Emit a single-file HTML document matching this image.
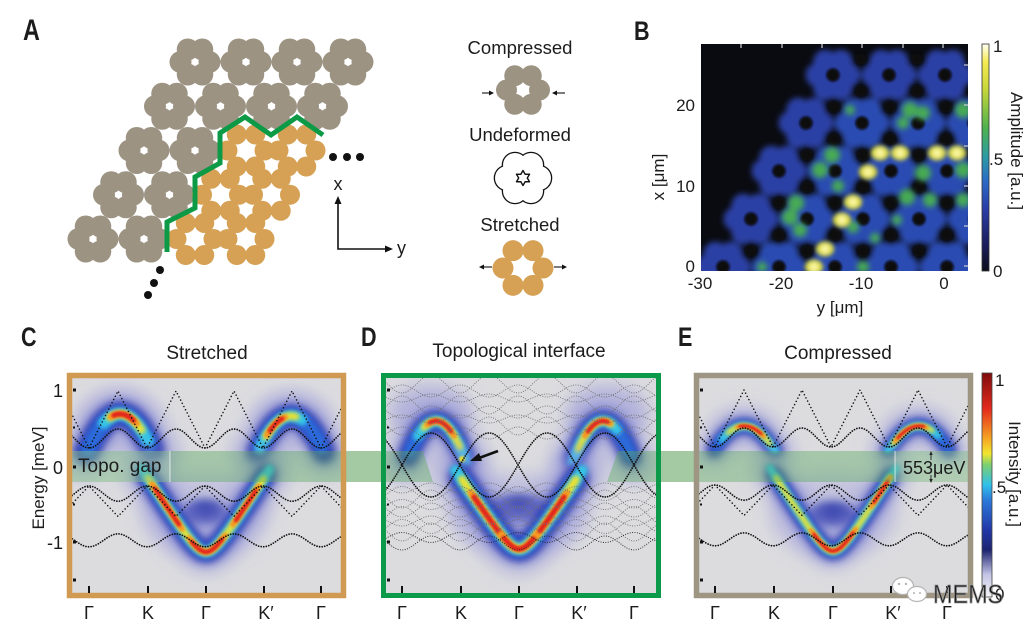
<!DOCTYPE html>
<html><head><meta charset="utf-8"><title>figure</title>
<style>
html,body{margin:0;padding:0;background:#fff;width:1036px;height:636px;overflow:hidden}
svg{display:block}
text{font-family:"Liberation Sans","DejaVu Sans",sans-serif;fill:#1c1c1c}
</style></head><body>
<svg id="s" xmlns="http://www.w3.org/2000/svg" width="1036" height="636" viewBox="0 0 1036 636">
<defs>
<filter id="b1" filterUnits="userSpaceOnUse" x="0" y="0" width="1036" height="636"><feGaussianBlur stdDeviation="1.1"/></filter>
<filter id="b2" filterUnits="userSpaceOnUse" x="0" y="0" width="1036" height="636"><feGaussianBlur stdDeviation="2"/></filter>
<filter id="b3" filterUnits="userSpaceOnUse" x="0" y="0" width="1036" height="636"><feGaussianBlur stdDeviation="3"/></filter>
<filter id="b4" filterUnits="userSpaceOnUse" x="0" y="0" width="1036" height="636"><feGaussianBlur stdDeviation="4.5"/></filter>
<filter id="b8" filterUnits="userSpaceOnUse" x="0" y="0" width="1036" height="636"><feGaussianBlur stdDeviation="8"/></filter>
<clipPath id="cB"><rect x="701" y="44" width="267" height="227"/></clipPath>
<clipPath id="cC"><rect x="72" y="378" width="269" height="215"/></clipPath>
<clipPath id="cD"><rect x="386" y="378" width="270" height="215"/></clipPath>
<clipPath id="cE"><rect x="699" y="378" width="269" height="215"/></clipPath>
<linearGradient id="cbB" x1="0" y1="1" x2="0" y2="0">
<stop offset="0" stop-color="#0c0d1c"/><stop offset="0.12" stop-color="#1b1d5e"/><stop offset="0.27" stop-color="#2a3ca6"/><stop offset="0.4" stop-color="#2a6cc6"/><stop offset="0.5" stop-color="#2c9aa6"/><stop offset="0.63" stop-color="#4db24e"/><stop offset="0.8" stop-color="#c6d63a"/><stop offset="0.92" stop-color="#f5ea52"/><stop offset="1" stop-color="#fffff2"/>
</linearGradient>
<linearGradient id="cbE" x1="0" y1="1" x2="0" y2="0">
<stop offset="0" stop-color="#f6f6f8"/><stop offset="0.1" stop-color="#c4c4e6"/><stop offset="0.21" stop-color="#1d2370"/><stop offset="0.3" stop-color="#2238a8"/><stop offset="0.43" stop-color="#2b78d8"/><stop offset="0.5" stop-color="#2fc0ea"/><stop offset="0.59" stop-color="#7cd070"/><stop offset="0.64" stop-color="#f2e630"/><stop offset="0.71" stop-color="#f6a224"/><stop offset="0.84" stop-color="#e42a1c"/><stop offset="1" stop-color="#7e0c0c"/>
</linearGradient>
</defs>
<rect width="1036" height="636" fill="#fff"/>

<!-- ================= Panel A ================= -->
<text transform="translate(23,40) scale(0.78,1)" font-size="30" font-weight="bold">A</text>
<g id="pA"></g>
<polyline points="167,252 167,222 195,208 195,177 220,163 220,133 245,117 271,135 297,117 323,135" fill="none" stroke="#0d9a47" stroke-width="5"/>
<g fill="#111">
<circle cx="333" cy="157" r="4"/><circle cx="347" cy="157" r="4"/><circle cx="360" cy="157" r="4"/>
<circle cx="160" cy="270" r="4"/><circle cx="154" cy="283" r="4"/><circle cx="148" cy="295" r="4"/>
</g>
<g stroke="#111" stroke-width="1.6" fill="none">
<polyline points="338,202 338,249 386,249"/>
</g>
<polygon points="338,196 334.5,204 341.5,204" fill="#111"/>
<polygon points="393,249 385,245.5 385,252.5" fill="#111"/>
<text x="338" y="190" font-size="18" text-anchor="middle">x</text>
<text x="397" y="254" font-size="18">y</text>

<text x="520" y="54" font-size="18.5" text-anchor="middle">Compressed</text>
<text x="520" y="141" font-size="18.5" text-anchor="middle">Undeformed</text>
<text x="520" y="231" font-size="18.5" text-anchor="middle">Stretched</text>
<g id="pL"></g>
<g stroke="#111" stroke-width="1.1">
<line x1="482" y1="93" x2="490" y2="93"/><line x1="565" y1="93" x2="557" y2="93"/>
<line x1="492" y1="267" x2="483" y2="267"/><line x1="554" y1="267" x2="563" y2="267"/>
</g>
<g fill="#111">
<polygon points="494,93 489,90.5 489,95.5"/><polygon points="552,93 557,90.5 557,95.5"/>
<polygon points="479,267 484,264.5 484,269.5"/><polygon points="567,267 562,264.5 562,269.5"/>
</g>

<!-- ================= Panel B ================= -->
<text transform="translate(634,40) scale(0.8,1)" font-size="27" font-weight="bold">B</text>
<rect x="701" y="44" width="267" height="227" fill="#0a0b10"/>
<g id="pB" clip-path="url(#cB)"></g>
<g stroke="#cfcfd6" stroke-width="1.2">
<line x1="741" y1="44" x2="741" y2="48"/><line x1="782" y1="44" x2="782" y2="48"/><line x1="822" y1="44" x2="822" y2="48"/><line x1="862" y1="44" x2="862" y2="48"/><line x1="903" y1="44" x2="903" y2="48"/><line x1="943" y1="44" x2="943" y2="48"/>
<line x1="964" y1="65" x2="968" y2="65"/><line x1="964" y1="105" x2="968" y2="105"/><line x1="964" y1="146" x2="968" y2="146"/><line x1="964" y1="186" x2="968" y2="186"/><line x1="964" y1="226" x2="968" y2="226"/><line x1="964" y1="266" x2="968" y2="266"/>
</g>
<rect x="982" y="44" width="7" height="227" fill="url(#cbB)" stroke="#333" stroke-width="0.8"/>
<g font-size="17">
<text x="695" y="111" text-anchor="end">20</text>
<text x="695" y="192" text-anchor="end">10</text>
<text x="695" y="272" text-anchor="end">0</text>
<text x="700" y="289" text-anchor="middle">-30</text>
<text x="781" y="289" text-anchor="middle">-20</text>
<text x="861" y="289" text-anchor="middle">-10</text>
<text x="944" y="289" text-anchor="middle">0</text>
<text x="840" y="313" text-anchor="middle">y [μm]</text>
<text transform="translate(664,177) rotate(-90)" text-anchor="middle">x [μm]</text>
<text x="993" y="52">1</text>
<text x="989" y="165">.5</text>
<text x="993" y="277">0</text>
<text transform="translate(1011,151) rotate(90)" text-anchor="middle">Amplitude [a.u.]</text>
</g>

<!-- ================= Panels C D E ================= -->
<text transform="translate(21,346) scale(0.8,1)" font-size="27" font-weight="bold">C</text>
<text transform="translate(361,346) scale(0.8,1)" font-size="27" font-weight="bold">D</text>
<text transform="translate(678,346) scale(0.8,1)" font-size="27" font-weight="bold">E</text>
<g font-size="19">
<text x="207" y="359" text-anchor="middle">Stretched</text>
<text x="519" y="357" text-anchor="middle">Topological interface</text>
<text x="838" y="359" text-anchor="middle">Compressed</text>
</g>

<rect x="72" y="378" width="269" height="215" fill="#dcdcdf"/>
<rect x="386" y="378" width="270" height="215" fill="#dcdcdf"/>
<rect x="699" y="378" width="269" height="215" fill="#dcdcdf"/>
<g id="hC" clip-path="url(#cC)"></g>
<g id="hD" clip-path="url(#cD)"></g>
<g id="hE" clip-path="url(#cE)"></g>

<!-- green band -->
<rect x="341" y="451" width="45" height="31" fill="#a4caa4"/>
<rect x="656" y="451" width="43" height="31" fill="#a4caa4"/>
<g fill="#5aaa60" fill-opacity="0.42">
<rect x="72" y="451" width="269" height="31"/>
<polygon points="386,451 423,451 433,482 386,482"/>
<polygon points="618,451 656,451 656,482 607,482"/>
<rect x="699" y="451" width="269" height="31"/>
</g>
<rect x="72" y="451" width="98" height="31" fill="#fff" fill-opacity="0.12"/>
<line x1="170" y1="451" x2="170" y2="482" stroke="#fff" stroke-opacity="0.7" stroke-width="1"/>
<rect x="895" y="451" width="73" height="31" fill="#fff" fill-opacity="0.12"/>
<line x1="895" y1="451" x2="895" y2="482" stroke="#fff" stroke-opacity="0.7" stroke-width="1"/>

<g id="dC" clip-path="url(#cC)"></g>
<g id="dD" clip-path="url(#cD)"></g>
<g id="dE" clip-path="url(#cE)"></g>

<text x="78" y="472" font-size="19" fill="#2a2a2a">Topo. gap</text>
<text x="903" y="474" font-size="18" fill="#2a2a2a">553μeV</text>
<g stroke="#222" stroke-width="0.9">
<line x1="931" y1="453" x2="931" y2="460"/><line x1="931" y1="475" x2="931" y2="481"/>
</g>
<g fill="#222"><polygon points="931,451 929.3,455 932.7,455"/><polygon points="931,483 929.3,479 932.7,479"/></g>

<!-- frames -->
<rect x="69.5" y="375.5" width="274" height="220" fill="none" stroke="#d09a53" stroke-width="5.5"/>
<rect x="383.5" y="375.5" width="275" height="220" fill="none" stroke="#0b9a49" stroke-width="5"/>
<rect x="696.5" y="375.5" width="274" height="220" fill="none" stroke="#9f9583" stroke-width="5.5"/>

<!-- ticks -->
<g fill="#111">
<rect x="73" y="388.5" width="3" height="3"/><rect x="73" y="465.5" width="3" height="3"/><rect x="73" y="540.5" width="3" height="3"/><rect x="73" y="578.5" width="3" height="3"/><rect x="73" y="426.5" width="2" height="2"/><rect x="73" y="503.5" width="2" height="2"/>
<rect x="387" y="388.5" width="3" height="3"/><rect x="387" y="465.5" width="3" height="3"/><rect x="387" y="540.5" width="3" height="3"/><rect x="387" y="578.5" width="3" height="3"/><rect x="387" y="426.5" width="2" height="2"/><rect x="387" y="503.5" width="2" height="2"/>
<rect x="700" y="388.5" width="3" height="3"/><rect x="700" y="465.5" width="3" height="3"/><rect x="700" y="540.5" width="3" height="3"/><rect x="700" y="578.5" width="3" height="3"/><rect x="700" y="426.5" width="2" height="2"/><rect x="700" y="503.5" width="2" height="2"/>
</g>
<g stroke="#111" stroke-width="2">
<line x1="89" y1="586" x2="89" y2="593"/><line x1="148" y1="586" x2="148" y2="593"/><line x1="206" y1="586" x2="206" y2="593"/><line x1="264" y1="586" x2="264" y2="593"/><line x1="321" y1="586" x2="321" y2="593"/>
<line x1="402" y1="586" x2="402" y2="593"/><line x1="461" y1="586" x2="461" y2="593"/><line x1="519" y1="586" x2="519" y2="593"/><line x1="577" y1="586" x2="577" y2="593"/><line x1="634" y1="586" x2="634" y2="593"/>
<line x1="715" y1="586" x2="715" y2="593"/><line x1="774" y1="586" x2="774" y2="593"/><line x1="833" y1="586" x2="833" y2="593"/><line x1="891" y1="586" x2="891" y2="593"/><line x1="947" y1="586" x2="947" y2="593"/>
</g>

<g font-size="18">
<text x="63" y="397" text-anchor="end">1</text>
<text x="63" y="474" text-anchor="end">0</text>
<text x="63" y="549" text-anchor="end">-1</text>
</g>
<text transform="translate(44,478) rotate(-90)" font-size="17" text-anchor="middle">Energy [meV]</text>
<g font-size="18" text-anchor="middle">
<text x="89" y="619">Γ</text><text x="148" y="619">K</text><text x="206" y="619">Γ</text><text x="266" y="619">K′</text><text x="321" y="619">Γ</text>
<text x="402" y="619">Γ</text><text x="461" y="619">K</text><text x="519" y="619">Γ</text><text x="579" y="619">K′</text><text x="634" y="619">Γ</text>
<text x="715" y="619">Γ</text><text x="774" y="619">K</text><text x="833" y="619">Γ</text><text x="893" y="619">K′</text><text x="947" y="619">Γ</text>
</g>

<!-- colorbar E -->
<rect x="982" y="373" width="10" height="224" fill="url(#cbE)" stroke="#444" stroke-width="0.8"/>
<g font-size="17">
<text x="995" y="386">1</text>
<text x="992" y="493">.5</text>
<text x="995" y="600">0</text>
<text transform="translate(1009,474) rotate(90)" text-anchor="middle">Intensity [a.u.]</text>
</g>

<!-- watermark -->
<g fill="#fff" stroke="#b4b4b4" stroke-width="1.2">
<ellipse cx="903" cy="586" rx="10.5" ry="8.5"/>
<ellipse cx="917" cy="594" rx="9.5" ry="7.5"/>
</g>
<g fill="#b4b4b4"><circle cx="899" cy="584" r="1.2"/><circle cx="906" cy="584" r="1.2"/><circle cx="914" cy="593" r="1"/><circle cx="920" cy="593" r="1"/></g>
<text transform="translate(933,603) scale(0.9,1)" font-size="26" fill="#f4f4f4" stroke="#9a9a9a" stroke-width="0.8">MEMS</text>
</svg>
<script>
(function(){
const NS='http://www.w3.org/2000/svg';
function E(t,a,p){const e=document.createElementNS(NS,t);for(const k in a)e.setAttribute(k,a[k]);p.appendChild(e);return e;}
const $=id=>document.getElementById(id);
function flower(g,cx,cy,d,r,col,dy){dy=dy||d;for(let i=0;i<6;i++){const a=i*Math.PI/3;E('circle',{cx:(cx+d*Math.cos(a)).toFixed(2),cy:(cy+dy*Math.sin(a)).toFixed(2),r:r,fill:col},g);}}
const GR='#9c9383',OR='#d6a155';
// ---- Panel A lattice
const A=$('pA');
for(let r=0;r<5;r++)for(let c=0;c<4;c++){
  const x=195+51*c-25.5*r,y=62+44.25*r;
  if(r>=2&&c>=2) flower(A,x,y,18.5,10,OR);
  else flower(A,x,y,14.5,11,GR);
}
// ---- Legend icons
const L=$('pL');
flower(L,523,90,16.5,10.5,GR);
for(let i=0;i<6;i++){const a=i*Math.PI/3;E('circle',{cx:523+16*Math.cos(a),cy:178+15*Math.sin(a),r:13.3,fill:'#111'},L);}
for(let i=0;i<6;i++){const a=i*Math.PI/3;E('circle',{cx:523+16*Math.cos(a),cy:178+15*Math.sin(a),r:12,fill:'#fff'},L);}
E('circle',{cx:523,cy:178,r:9,fill:'#fff'},L);
let st='';for(let i=0;i<12;i++){const a=-Math.PI/2+i*Math.PI/6,R=(i%2?4.3:7.5);st+=(523+R*Math.cos(a)).toFixed(2)+','+(178+R*Math.sin(a)).toFixed(2)+' ';}
E('polygon',{points:st,fill:'#fff',stroke:'#111','stroke-width':1.4,'stroke-linejoin':'round'},L);
flower(L,523,268,20,10.5,OR);
// ---- Panel B
const B=$('pB');
const gb=E('g',{filter:'url(#b3)'},B);
const starts=[833,806,779,751,723],cen=[];
for(let r=0;r<5;r++){const y=75+48*r;for(let x=starts[r];x<1010;x+=56){cen.push([x,y]);const edge=(x-starts[r]<10)||r===0;flower(gb,x,y,15.5,12,edge?'#2c40a4':'#2b4cb2');}}
// interstitial holes
const gh=E('g',{filter:'url(#b1)'},B);
cen.forEach(p=>E('circle',{cx:p[0],cy:p[1],r:6.5,fill:'#07080c'},gh));
cen.forEach(p=>{E('circle',{cx:p[0]+28,cy:p[1]+16,r:6,fill:'#07080c'},gh);E('circle',{cx:p[0]+28,cy:p[1]-16,r:6,fill:'#07080c'},gh);});
const greens=[[832,155,8],[820,170,8],[838,186,6],[796,203,8],[790,217,8],[800,230,7],[850,110,5],[910,110,8],[923,113,7],[903,123,6],[963,110,8],[923,173,8],[963,170,8],[907,197,8],[930,200,7],[963,200,7],[853,227,6],[897,220,5],[863,267,6],[762,267,5],[875,238,5]];
const gg=E('g',{filter:'url(#b3)'},B);
greens.forEach(p=>E('circle',{cx:p[0],cy:p[1],r:p[2],fill:'#48b050','fill-opacity':0.95},gg));
const yel=[[880,153],[900,153],[937,153],[957,153],[868,172],[853,202],[842,220],[825,249],[814,267]];
const gy=E('g',{filter:'url(#b2)'},B);
yel.forEach(p=>{E('ellipse',{cx:p[0],cy:p[1],rx:9,ry:7.5,fill:'#e0de3a'},gy);E('circle',{cx:p[0],cy:p[1],r:4,fill:'#fbf6a8'},gy);});
// ---- helpers for C D E
function fp(f,x0,x1,s){s=s||1.5;let d='';for(let x=x0;x<=x1+1e-6;x+=s){d+=(d?'L':'M')+x.toFixed(1)+' '+f(x).toFixed(1);}return d;}
function heat(g,f,x0,x1,W,core,reds){
  const Ls=[[x0-3,x1+3,'#9494da',W*2,0.5,'b8'],[x0,x1,'#2130ad',W,0.95,'b4'],[x0+2,x1-2,'#2b6edc',W*0.62,0.95,'b3'],[core[0]-6,core[1]+6,'#36c6e8',W*0.45,1,'b2'],[core[0],core[1],'#f0e22c',W*0.3,1,'b2']];
  reds.forEach(r=>{Ls.push([r[0]-3,r[1]+3,'#f49a22',W*0.26,1,'b1']);Ls.push([r[0],r[1],'#e2261a',W*0.2,1,'b1']);});
  Ls.forEach(s=>E('path',{d:fp(f,s[0],s[1]),fill:'none',stroke:s[2],'stroke-width':s[3],'stroke-opacity':s[4],'stroke-linecap':'round','stroke-linejoin':'round',filter:'url(#'+s[5]+')'},g));
}
const arc=(xc,hw,yp,yb)=>x=>yp+(yb-yp)*Math.min(1,((x-xc)/hw)**2);
const vee=(xc,yt,yb)=>{const c=12,n=Math.sqrt(58*58+c*c)-c;return x=>{const dx=x-xc;return yb-(yb-yt)*(Math.sqrt(dx*dx+c*c)-c)/n;};};
function blob(g,cx,cy,rx,ry,col,op,f){E('ellipse',{cx:cx,cy:cy,rx:rx,ry:ry,fill:col,'fill-opacity':op,filter:'url(#'+f+')'},g);}
// C heat
const hC=$('hC');
blob(hC,205,515,64,44,'#a0a0dc',0.4,'b8');
blob(hC,118,420,40,28,'#a0a0dc',0.35,'b8');blob(hC,292,420,40,28,'#a0a0dc',0.35,'b8');
heat(hC,arc(120,33,414,452),86,152,26,[110,142],[[114,134]]);
heat(hC,arc(291,33,416,452),258,324,24,[266,296],[[270,282]]);
blob(hC,205,512,22,13,'#2532a8',0.85,'b4');
heat(hC,vee(206,478,552),146,266,22,[148,264],[[155,180],[192,222],[236,256]]);
// D heat
const hD=$('hD');
blob(hD,430,412,42,28,'#8c8cd8',0.45,'b8');blob(hD,608,412,42,28,'#8c8cd8',0.45,'b8');
blob(hD,519,515,70,42,'#a0a0dc',0.45,'b8');
heat(hD,arc(436,30,421,462),408,466,22,[424,460],[[430,452]]);
heat(hD,arc(603,30,421,462),574,632,22,[578,612],[[588,608]]);
blob(hD,519,508,30,14,'#2532a8',0.85,'b4');
heat(hD,vee(519,478,549),461,577,26,[462,576],[[474,500],[504,534],[540,564]]);
E('circle',{cx:462,cy:459,r:3,fill:'#f0e22c',filter:'url(#b1)'},hD);
// E heat
const hE=$('hE');
blob(hE,833,515,64,44,'#a0a0dc',0.4,'b8');
blob(hE,744,428,36,22,'#a0a0dc',0.3,'b8');blob(hE,919,428,36,22,'#a0a0dc',0.3,'b8');
heat(hE,arc(744,30,426,450),714,776,16,[728,770],[[740,762]]);
heat(hE,arc(919,30,426,450),889,950,16,[893,932],[[898,924]]);
blob(hE,833,514,24,13,'#2532a8',0.85,'b4');
heat(hE,vee(833,476,551),774,892,18,[776,890],[[814,854],[874,888]]);
// dotted curves
function dots(g,f,x0,x1,col,w,gap){E('path',{d:fp(f,x0,x1,1),fill:'none',stroke:col,'stroke-width':w,'stroke-dasharray':'0 '+gap,'stroke-linecap':'round'},g);}
function bands(g,G0,y0,x0,x1){
  const u=x=>(x-G0)/58, s2=x=>Math.sin(Math.PI*u(x))**2, tri=x=>{const v=u(x);return 1-Math.abs(2*(v-Math.floor(v))-1);};
  const k=76,c='#111';
  dots(g,x=>y0-k*(0.25+0.25*s2(x)),x0,x1,c,1.8,2.6);
  dots(g,x=>y0-k*(0.25+0.75*tri(x)),x0,x1,c,1.6,3.6);
  dots(g,x=>y0+k*(0.25+0.2*s2(x)),x0,x1,c,1.8,2.6);
  dots(g,x=>y0+k*(0.25+0.4*tri(x)),x0,x1,c,1.6,3.6);
  dots(g,x=>y0+k*(1.05-0.17*s2(x)),x0,x1,c,1.8,2.6);
}
bands($('dC'),89,467,68,346);
bands($('dE'),715,466,695,972);
const dD=$('dD');
for(let i=0;i<8;i++){const base=384+i*7,amp=[9,6,4][i%3],ph=(i%2)*0.5;dots(dD,x=>base+amp*Math.cos(2*Math.PI*((x-402)/58+ph)),384,658,'#707070',1.1,2.4);}
for(let i=0;i<11;i++){const base=488+i*5.5,amp=5+(i%3)*2,ph=(i%2)*0.5;dots(dD,x=>base+amp*Math.cos(2*Math.PI*((x-402)/58+ph)),384,658,i>8?'#222':'#707070',1.1,2.4);}
dots(dD,x=>465-32*Math.abs(Math.sin(Math.PI*(x-402)/58)),384,658,'#111',1.8,2.4);
dots(dD,x=>465+32*Math.abs(Math.sin(Math.PI*(x-402)/58)),384,658,'#111',1.8,2.4);
// arrow in D
const s=$('s');
E('line',{x1:'498',y1:'451',x2:'479',y2:'458',stroke:'#111','stroke-width':'2.6'},s);
E('polygon',{points:'470,461 479,453 482,461',fill:'#111'},s);
})();
</script>
</body></html>
